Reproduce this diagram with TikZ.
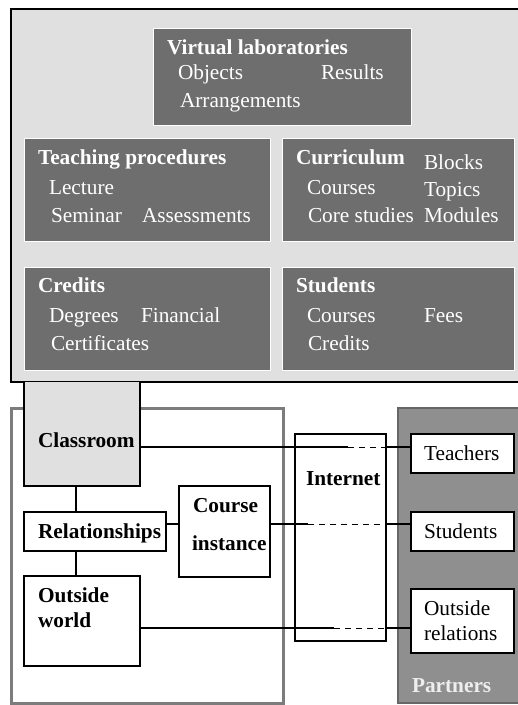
\documentclass[tikz,border=0pt]{standalone}
\usepackage{fontspec}
\setmainfont{Liberation Serif}
\definecolor{lightfill}{HTML}{E0E0E0}
\definecolor{darkfill}{HTML}{6E6E6E}
\definecolor{campusline}{HTML}{7C7C7C}
\definecolor{partnerfill}{HTML}{8F8F8F}
\definecolor{partnerline}{HTML}{666666}
\definecolor{partnertext}{HTML}{EEEEEE}
\newcommand\fsz{\fontsize{21.3}{25}\selectfont}
\begin{document}
\begin{tikzpicture}[x=1pt,y=-1pt,
  every node/.style={inner sep=0pt, outer sep=0pt},
  area/.style={rectangle, anchor=north west},
  bigbox/.style={area, draw=black, line width=2pt, fill=lightfill},
  darkbox/.style={area, draw=white, line width=1pt, fill=darkfill},
  whitebox/.style={area, draw=black, line width=1.8pt, fill=white},
  campus/.style={area, draw=campusline, line width=3pt, fill=white},
  partners/.style={area, draw=partnerline, line width=2pt, fill=partnerfill},
  wtitle/.style={anchor=base west, font=\fsz\bfseries, text=white},
  witem/.style={anchor=base west, font=\fsz, text=white},
  btitle/.style={anchor=base west, font=\fsz\bfseries, text=black},
  bitem/.style={anchor=base west, font=\fsz, text=black},
  conn/.style={line width=1.6pt},
  dashconn/.style={line width=0.9pt, dash pattern=on 6pt off 5pt}
]
\clip (0,0) rectangle (518,705);
\fill[white] (0,0) rectangle (518,705);

% top platform
\node[bigbox, minimum width=530, minimum height=373] (platform) at (11,9) {};
\node[darkbox, minimum width=258, minimum height=97] (vlab) at (153,28) {};
\node[darkbox, minimum width=246, minimum height=103] (teach) at (24,138) {};
\node[darkbox, minimum width=232, minimum height=103] (curr) at (282,138) {};
\node[darkbox, minimum width=246, minimum height=103] (cred) at (24,267) {};
\node[darkbox, minimum width=232, minimum height=103] (stud) at (282,267) {};

\node[wtitle] (vlabT) at (167,54) {Virtual laboratories};
\node[witem] (vlab1) at (178,79) {Objects};
\node[witem] (vlab2) at (321,79) {Results};
\node[witem] (vlab3) at (180,107) {Arrangements};

\node[wtitle] (teachT) at (38,164) {Teaching procedures};
\node[witem] (teach1) at (49,194) {Lecture};
\node[witem] (teach2) at (51,222) {Seminar};
\node[witem] (teach3) at (142,222) {Assessments};

\node[wtitle] (currT) at (296,164) {Curriculum};
\node[witem] (curr1) at (424,169) {Blocks};
\node[witem] (curr2) at (307,194) {Courses};
\node[witem] (curr3) at (424,196) {Topics};
\node[witem] (curr4) at (308,222) {Core studies};
\node[witem] (curr5) at (424,222) {Modules};

\node[wtitle] (credT) at (38,292) {Credits};
\node[witem] (cred1) at (49,322) {Degrees};
\node[witem] (cred2) at (141,322) {Financial};
\node[witem] (cred3) at (51,350) {Certificates};

\node[wtitle] (studT) at (296,292) {Students};
\node[witem] (stud1) at (307,322) {Courses};
\node[witem] (stud2) at (424,322) {Fees};
\node[witem] (stud3) at (308,350) {Credits};

% lower left container
\node[campus, minimum width=272, minimum height=295] (campusbox) at (11,408) {};
\node[area, fill=lightfill, minimum width=116, minimum height=104] (classroom) at (24,382) {};
\draw[conn] (classroom.north west) -- (classroom.south west) -- (classroom.south east) -- (classroom.north east);
\node[btitle] (classroomT) at (38,447) {Classroom};

\node[whitebox, minimum width=142, minimum height=39] (relations) at (24,512) {};
\node[btitle] (relationsT) at (38,538) {Relationships};
\node[whitebox, minimum width=116, minimum height=90] (outside) at (24,576) {};
\node[btitle] (outsideT1) at (38,602) {Outside};
\node[btitle] (outsideT2) at (38,627) {world};
\node[whitebox, minimum width=91, minimum height=91] (course) at (179,486) {};
\node[btitle] (courseT1) at (193,512) {Course};
\node[btitle] (courseT2) at (192,550) {instance};

% internet
\node[whitebox, minimum width=91, minimum height=207] (internet) at (295,434) {};
\node[btitle] (internetT) at (306,485) {Internet};

% partners
\node[partners, minimum width=140, minimum height=295] (partnerbox) at (398,408) {};
\node[anchor=base west, font=\fsz\bfseries, text=partnertext] (partnersT) at (412,692) {Partners};
\node[whitebox, minimum width=103, minimum height=39] (teachers) at (411,434) {};
\node[bitem] (teachersT) at (424,460) {Teachers};
\node[whitebox, minimum width=103, minimum height=39] (students) at (411,512) {};
\node[bitem] (studentsT) at (424,538) {Students};
\node[whitebox, minimum width=103, minimum height=64] (outrel) at (411,589) {};
\node[bitem] (outrelT1) at (424,615) {Outside};
\node[bitem] (outrelT2) at (424,640) {relations};

% internal connectors
\coordinate (vx) at (76,0);
\coordinate (hy) at (0,524);
\draw[conn] (classroom.south -| vx) -- (relations.north -| vx);
\draw[conn] (relations.south -| vx) -- (outside.north -| vx);
\draw[conn] (relations.east |- hy) -- (course.west |- hy);

% connectors through the internet
\coordinate (d1) at (348,447);
\coordinate (d2) at (308,524);
\coordinate (d3) at (334,628);
\draw[conn] (classroom.east |- d1) -- (d1);
\draw[dashconn] (d1) -- (internet.east |- d1);
\draw[conn] (internet.east |- d1) -- (teachers.west |- d1);

\draw[conn] (course.east |- d2) -- (d2);
\draw[dashconn] (d2) -- (internet.east |- d2);
\draw[conn] (internet.east |- d2) -- (students.west |- d2);

\draw[conn] (outside.east |- d3) -- (d3);
\draw[dashconn] (d3) -- (internet.east |- d3);
\draw[conn] (internet.east |- d3) -- (outrel.west |- d3);
\end{tikzpicture}
\end{document}
